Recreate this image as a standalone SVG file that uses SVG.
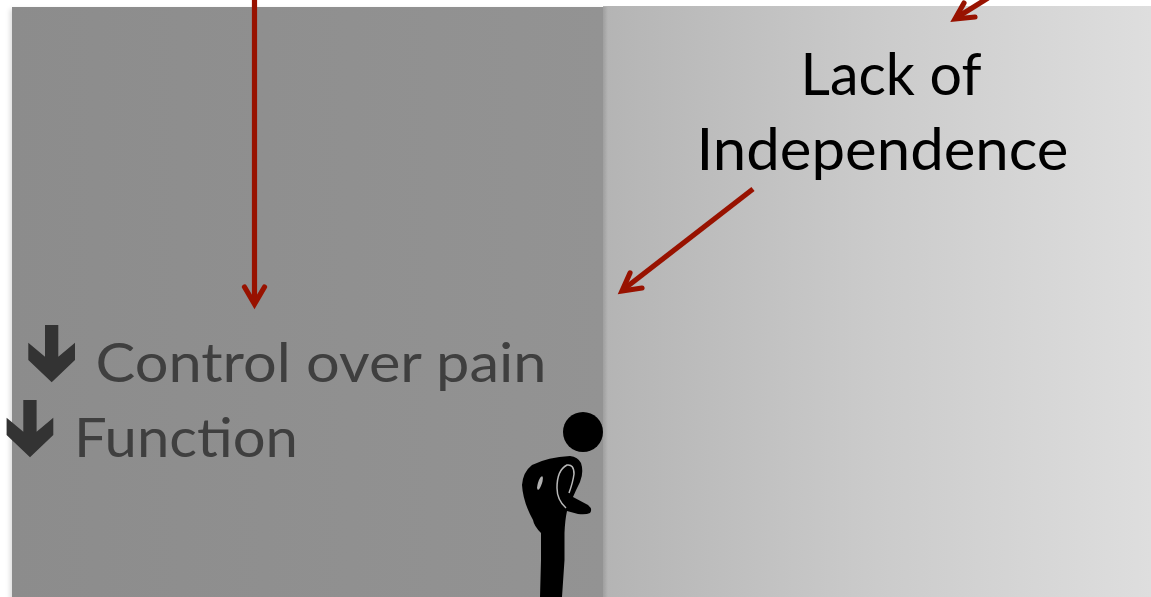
<svg xmlns="http://www.w3.org/2000/svg" width="1151" height="597" viewBox="0 0 1151 597">
<style>
.lbl{font-family:Lato,"Open Sans","Liberation Sans",sans-serif}
.dark{fill:#3f3f3f;font-size:54px}
.blk{fill:#000;font-size:58px}
.conn{stroke:#981200;stroke-width:5.200;fill:none;stroke-linecap:butt}
.head{stroke:#981200;stroke-width:5.200;fill:none;stroke-linecap:round;stroke-linejoin:miter}
</style>
<defs>
<linearGradient id="lg" x1="0" x2="1" y1="0" y2="0"><stop offset="0" stop-color="#8c8c8c"/><stop offset="1" stop-color="#939393"/></linearGradient>
<linearGradient id="rg" x1="0" x2="1" y1="0" y2="0"><stop offset="0" stop-color="#b4b4b4"/><stop offset="0.5" stop-color="#cbcbcb"/><stop offset="1" stop-color="#dedede"/></linearGradient>
<linearGradient id="edge" x1="0" x2="1" y1="0" y2="0"><stop offset="0" stop-color="#000" stop-opacity="0.12"/><stop offset="1" stop-color="#000" stop-opacity="0"/></linearGradient>
<filter id="sh" x="-5%" y="-5%" width="110%" height="110%"><feGaussianBlur stdDeviation="2.500"/></filter>
<polygon id="down" points="45,325 58.300,325 58.300,356.700 75,342.700 75,360 51.700,382.300 28.300,360 28.300,342.700 45,356.700"/>
</defs>
<rect width="1151" height="597" fill="#fff"/>
<g id="panel-left">
<rect x="10" y="9" width="593" height="600" fill="#000" opacity="0.14" filter="url(#sh)"/>
<rect x="12" y="7" width="591" height="590" fill="url(#lg)"/>
</g>
<g id="panel-right">
<rect x="603" y="6" width="548" height="591" fill="url(#rg)"/>
<rect x="603" y="7" width="5" height="590" fill="url(#edge)"/>
</g>
<g id="connectors">
<line class="conn" x1="254.500" y1="0" x2="254.500" y2="302"/>
<polyline class="head" points="244.500,287 254.500,304 264.500,287"/>
<line class="conn" x1="753" y1="189" x2="624" y2="289"/>
<polyline class="head" points="630,273 622,291 642,288"/>
<line class="conn" x1="988" y1="-2" x2="956" y2="18"/>
<polyline class="head" points="964,3 955,19 975,17"/>
</g>
<g id="label-lack"><text class="lbl blk" x="800.500" y="95" textLength="181" lengthAdjust="spacingAndGlyphs">Lack of</text>
<text class="lbl blk" x="696.500" y="170" textLength="372" lengthAdjust="spacingAndGlyphs">Independence</text></g>
<g id="label-control"><use href="#down" fill="#333"/><text class="lbl dark" x="95.500" y="382" textLength="451" lengthAdjust="spacingAndGlyphs">Control over pain</text></g>
<g id="label-function"><use href="#down" x="-21.700" y="75" fill="#333"/><text class="lbl dark" x="74" y="457" textLength="224" lengthAdjust="spacingAndGlyphs">Function</text></g>
<g id="person">
<circle cx="583" cy="432" r="20" fill="#000"/>
<path fill="#000" d="M570 456 Q578 457 581 463 Q584 472 580 482 Q576 490 573 497 L588 505 Q593 509 590 513 Q586 515 578 514 L567 511 Q565 520 564.500 533 L564.500 560 L562 597 L540 597 L541 560 L541 533 Q534 526 533 520 Q523 502 522 485 Q523 472 532 465 Q548 457 570 456 Z"/>
<path fill="none" stroke="#b8b8b8" stroke-width="1.500" d="M566 508 Q557 500 557 488 Q557 470 567 465 Q574 464 574 474 Q573 482 569 493"/>
<ellipse cx="540" cy="483" rx="2" ry="7" fill="#b0b0b0" transform="rotate(18 540 483)"/>
</g>
</svg>
